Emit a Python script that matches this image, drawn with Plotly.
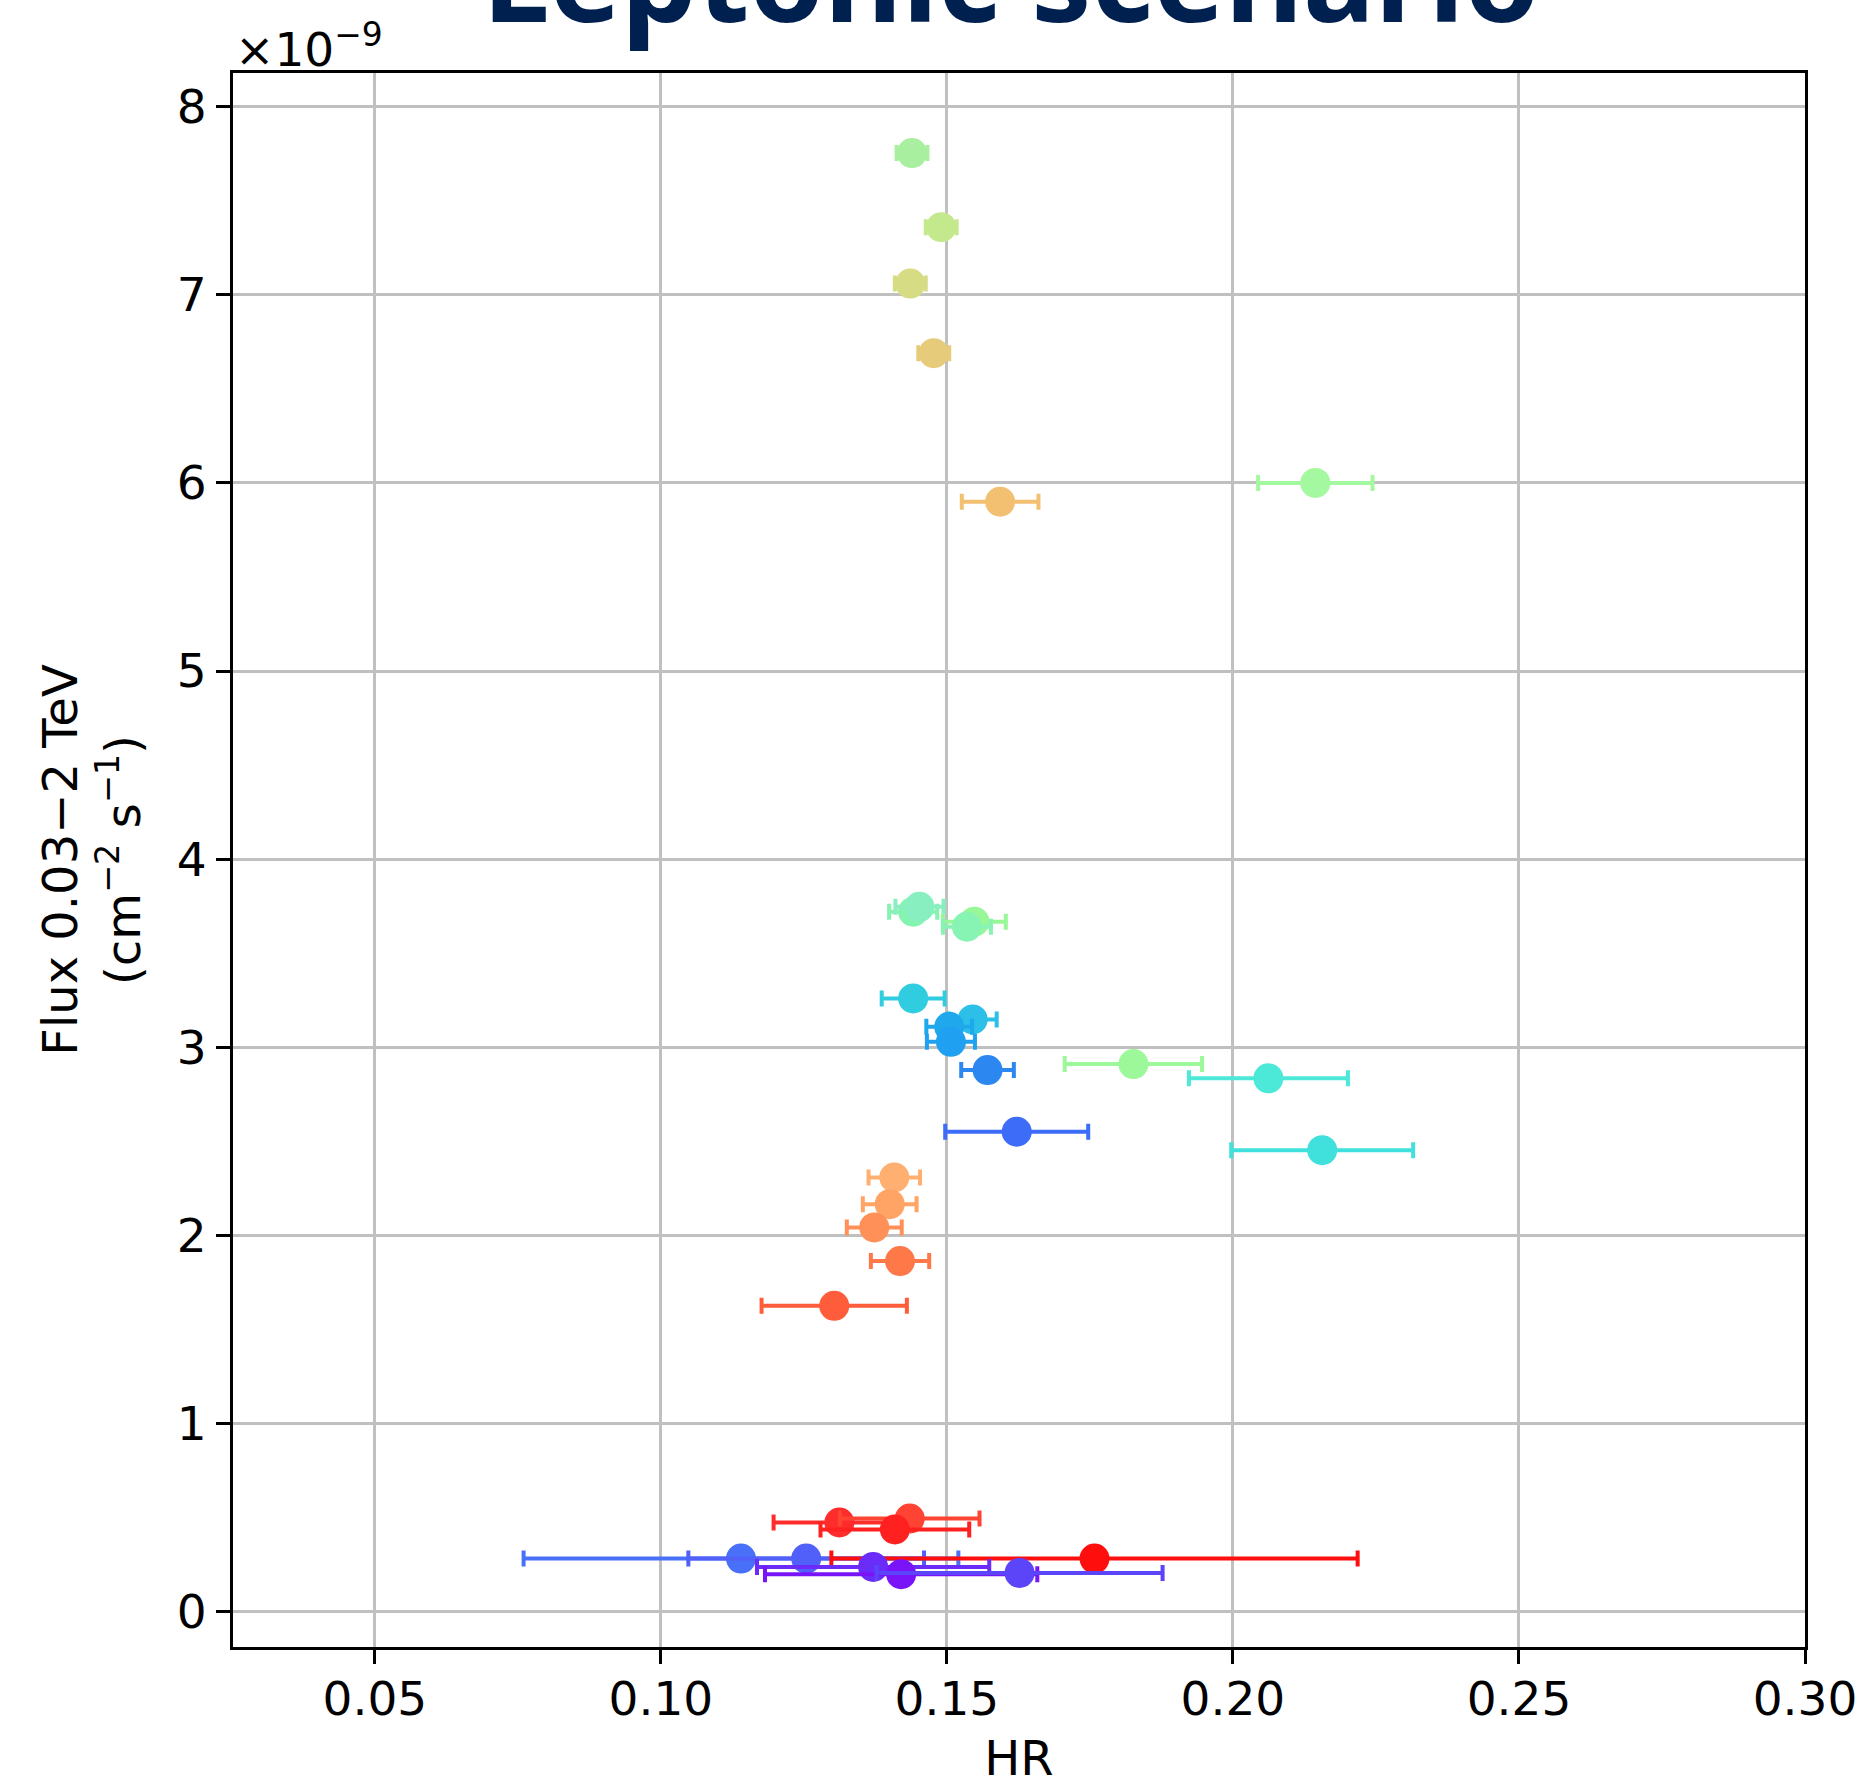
import plotly.graph_objects as go

# Hardness ratio (x) and flux 0.03-2 TeV in units of 1e-9 cm^-2 s^-1 (y)
hr = [0.1439, 0.1490, 0.1436, 0.1477, 0.1593, 0.2144, 0.1441, 0.1452, 0.1548, 0.1535,
      0.1441, 0.1545, 0.1504, 0.1507, 0.1571, 0.1826, 0.2062, 0.1622, 0.2156, 0.1408,
      0.1400, 0.1373, 0.1418, 0.1303, 0.1312, 0.1435, 0.1409, 0.1140, 0.1254, 0.1758,
      0.1371, 0.1420, 0.1627]
hr_err = [0.0027, 0.0027, 0.0027, 0.0027, 0.0067, 0.0100, 0.0042, 0.0042, 0.0055, 0.0042,
          0.0055, 0.0042, 0.0040, 0.0042, 0.0046, 0.0120, 0.0139, 0.0125, 0.0159, 0.0045,
          0.0047, 0.0048, 0.0051, 0.0127, 0.0115, 0.0122, 0.0130, 0.0380, 0.0206, 0.0460,
          0.0203, 0.0238, 0.0250]
flux_e9 = [7.754, 7.36, 7.06, 6.69, 5.90, 6.00, 3.720, 3.746, 3.667, 3.640,
           3.259, 3.147, 3.108, 3.028, 2.878, 2.910, 2.834, 2.550, 2.452, 2.307,
           2.165, 2.041, 1.862, 1.624, 0.472, 0.493, 0.435, 0.280, 0.280, 0.280,
           0.236, 0.197, 0.204]
point_colors = ["#a8f0a0", "#c4e88c", "#d6dc84", "#e6cc7a", "#f2c070", "#a4f8a0", "#84f4b0", "#88f0c0",
                "#98f898", "#88f4b4", "#30cce0", "#2cc0e8", "#20a8ec", "#20a0f0", "#2c88f0", "#9cf898",
                "#4ce8d8", "#3c6cf8", "#40e0dc", "#ffb070", "#ffa464", "#ff9058", "#ff7848", "#ff5c3c",
                "#ff2c2c", "#ff4434", "#ff2020", "#4870f8", "#5060f8", "#ff0e0e", "#6a2cf8", "#7a14f8",
                "#5c44f8"]

x_ticks = [0.05, 0.10, 0.15, 0.20, 0.25, 0.30]
x_tick_labels = ["0.05", "0.10", "0.15", "0.20", "0.25", "0.30"]
y_ticks = [0, 1, 2, 3, 4, 5, 6, 7, 8]

fig = go.Figure()
for x, xe, y, c in zip(hr, hr_err, flux_e9, point_colors):
    fig.add_trace(go.Scatter(
        x=[x], y=[y], mode="markers",
        marker=dict(color=c, size=30, line=dict(width=0)),
        error_x=dict(type="data", array=[xe], color=c, thickness=4, width=8),
        showlegend=False,
    ))

tick_font = dict(family="DejaVu Sans", size=47, color="black")
label_font = dict(family="DejaVu Sans", size=48, color="black")
fig.update_layout(
    width=1871, height=1786,
    margin=dict(l=233, r=66, t=73, b=139),
    paper_bgcolor="white", plot_bgcolor="white",
    title=dict(text="<b>Leptonic scenario</b>", x=1011 / 1871, xanchor="center",
               y=1 - 22 / 1786, yanchor="bottom", yref="container",
               font=dict(family="Noto Sans", size=120, color="#002050")),
    xaxis=dict(range=[0.0252, 0.30], tickvals=x_ticks, ticktext=x_tick_labels,
               automargin=False, ticklabelstandoff=-5,
               showgrid=True, gridcolor="#c0c0c0", gridwidth=2.5,
               showline=True, linecolor="black", linewidth=2.7, mirror=True,
               ticks="outside", ticklen=14, tickwidth=2.5, tickcolor="black",
               tickfont=tick_font, zeroline=False,
               title=dict(text="HR", font=label_font, standoff=26)),
    yaxis=dict(range=[-0.19, 8.18], tickvals=y_ticks,
               automargin=False,
               showgrid=True, gridcolor="#c0c0c0", gridwidth=2.5,
               showline=True, linecolor="black", linewidth=2.7, mirror=True,
               ticks="outside", ticklen=14, tickwidth=2.5, tickcolor="black",
               tickfont=tick_font, zeroline=False,
               title=dict(text="Flux 0.03\u22122 TeV<br>(cm<sup>\u22122</sup> s<sup>\u22121</sup>)",
                          font=label_font, standoff=22)),
    annotations=[dict(text="\u00d710<sup>\u22129</sup>", x=0, y=1, xref="paper", yref="paper",
                      xanchor="left", yanchor="bottom", showarrow=False, yshift=-6,
                      font=tick_font)],
)

fig.write_html("out.html")
